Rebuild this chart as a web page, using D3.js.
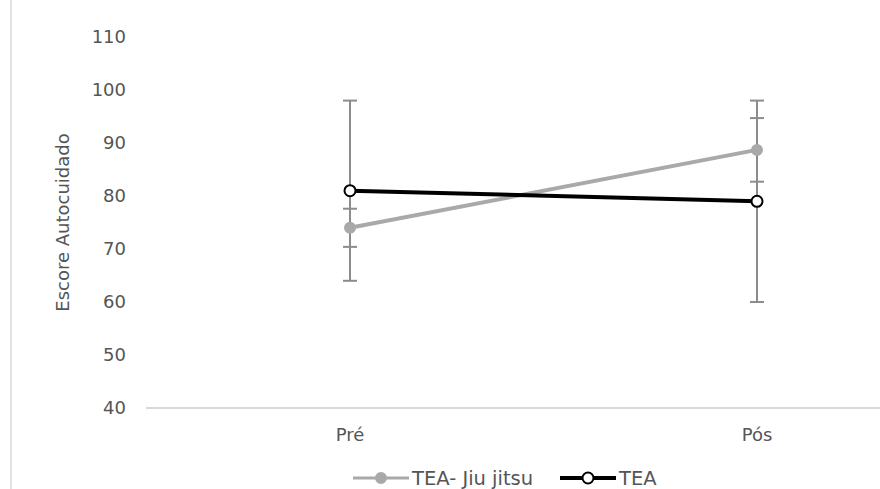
<!DOCTYPE html>
<html>
<head>
<meta charset="utf-8">
<script src="https://cdn.jsdelivr.net/npm/d3@7/dist/d3.min.js"></script>
<style>
  html, body { margin: 0; padding: 0; background: #fff; }
  svg { display: block; }
  text { font-family: "DejaVu Sans", sans-serif; fill: #555555; }
</style>
</head>
<body>
<svg id="chart" width="880" height="489"></svg>
<script>
// Moments of measurement
const moments = ["Pré", "Pós"];
// Group means
const jiuJitsuMean = [74, 88.7];
const teaMean = [81, 79];
// Standard deviations (error bar half-lengths)
const jiuJitsuSD = [3.6, 6];
const teaSD = [17, 19];
// Y axis ticks
const yTicks = [40, 50, 60, 70, 80, 90, 100, 110];
const seriesNames = ["TEA- Jiu jitsu", "TEA"];

const svg = d3.select("#chart");
const W = 880, H = 489;

const x = d3.scalePoint().domain(moments).range([350, 757]);
const y = d3.scaleLinear().domain([40, 110]).range([408, 37]);

// frame line on the left
svg.append("line")
  .attr("x1", 11).attr("x2", 11).attr("y1", 0).attr("y2", H)
  .attr("stroke", "#d9d9d9").attr("stroke-width", 1.5);

// y tick labels
svg.append("g").selectAll("text").data(yTicks).join("text")
  .attr("x", 126).attr("y", d => y(d))
  .attr("dy", "0.36em")
  .attr("text-anchor", "end")
  .attr("font-size", 18)
  .text(d => d);

// x axis baseline
svg.append("line")
  .attr("x1", 146).attr("x2", W).attr("y1", y(40)).attr("y2", y(40))
  .attr("stroke", "#d9d9d9").attr("stroke-width", 2);

// x labels
svg.append("g").selectAll("text").data(moments).join("text")
  .attr("x", d => x(d)).attr("y", 441)
  .attr("text-anchor", "middle")
  .attr("font-size", 18)
  .text(d => d);

// y axis title
svg.append("text")
  .attr("transform", `translate(69, ${y(75)}) rotate(-90)`)
  .attr("text-anchor", "middle")
  .attr("font-size", 18)
  .text("Escore Autocuidado");

const series = [
  { name: seriesNames[0], mean: jiuJitsuMean, sd: jiuJitsuSD, color: "#a9a9a9", fill: "#a9a9a9", r: 5 },
  { name: seriesNames[1], mean: teaMean, sd: teaSD, color: "#000000", fill: "#ffffff", r: 5.5 }
];

// error bars
const capW = 7;
series.forEach(s => {
  const g = svg.append("g");
  moments.forEach((m, i) => {
    const lo = s.mean[i] - s.sd[i], hi = s.mean[i] + s.sd[i];
    g.append("line").attr("x1", x(m)).attr("x2", x(m)).attr("y1", y(lo)).attr("y2", y(hi))
      .attr("stroke", "#8c8c8c").attr("stroke-width", 2);
    [lo, hi].forEach(v => g.append("line")
      .attr("x1", x(m) - capW).attr("x2", x(m) + capW).attr("y1", y(v)).attr("y2", y(v))
      .attr("stroke", "#8c8c8c").attr("stroke-width", 2));
  });
});

// lines and markers
const line = d3.line().x((d, i) => x(moments[i])).y(d => y(d));
series.forEach(s => {
  svg.append("path").datum(s.mean).attr("d", line)
    .attr("fill", "none").attr("stroke", s.color).attr("stroke-width", 4);
  svg.append("g").selectAll("circle").data(s.mean).join("circle")
    .attr("cx", (d, i) => x(moments[i])).attr("cy", d => y(d))
    .attr("r", s.r)
    .attr("fill", s.fill).attr("stroke", s.color).attr("stroke-width", 2);
});

// legend
const legendY = 478;
const legendItems = [
  { s: series[0], x0: 353 },
  { s: series[1], x0: 560 }
];
legendItems.forEach(({ s, x0 }) => {
  const g = svg.append("g");
  g.append("line").attr("x1", x0).attr("x2", x0 + 56).attr("y1", legendY).attr("y2", legendY)
    .attr("stroke", s.color).attr("stroke-width", s === series[1] ? 4 : 3);
  g.append("circle").attr("cx", x0 + 28).attr("cy", legendY).attr("r", s.r)
    .attr("fill", s.fill).attr("stroke", s.color).attr("stroke-width", 2);
  g.append("text").attr("x", x0 + 59).attr("y", legendY).attr("dy", "0.36em")
    .attr("font-size", 19.5).text(s.name);
});
</script>
</body>
</html>
